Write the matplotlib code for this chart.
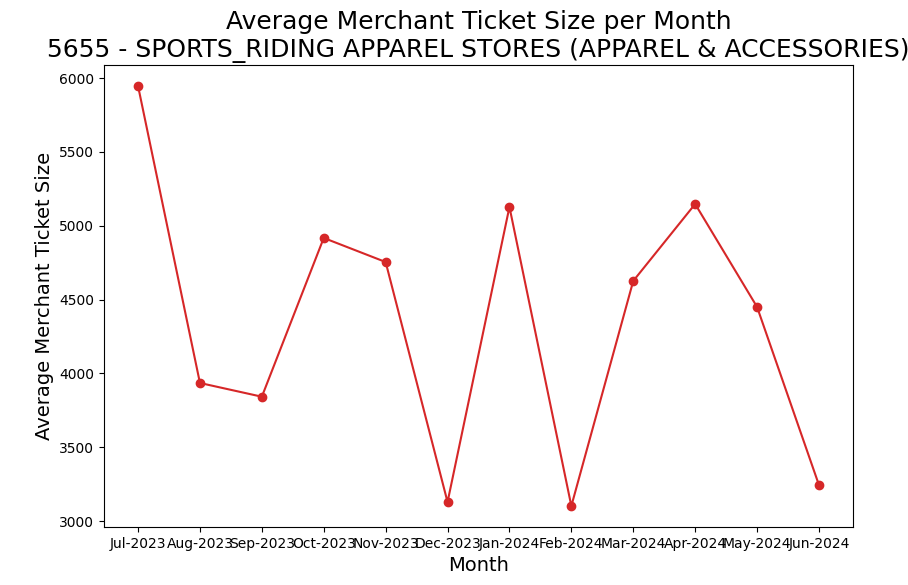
import matplotlib
matplotlib.use('Agg')
import matplotlib.pyplot as plt

months = ['Jul-2023', 'Aug-2023', 'Sep-2023', 'Oct-2023', 'Nov-2023', 'Dec-2023',
          'Jan-2024', 'Feb-2024', 'Mar-2024', 'Apr-2024', 'May-2024', 'Jun-2024']
ticket = [5946, 3935, 3842, 4917, 4754, 3129, 5127, 3102, 4626, 5147, 4450, 3244]

fig = plt.figure(figsize=(9.08, 5.85), dpi=100)
ax = fig.add_axes([104/908, 58/585, (853-104)/908, (527-65)/585])
ax.plot(months, ticket, marker='o', color='tab:red')
ax.set_title('Average Merchant Ticket Size per Month\n5655 - SPORTS_RIDING APPAREL STORES (APPAREL & ACCESSORIES)', fontsize=18)
ax.set_xlabel('Month', fontsize=14)
ax.set_ylabel('Average Merchant Ticket Size', fontsize=14)
fig.savefig('out.png', dpi=100)
